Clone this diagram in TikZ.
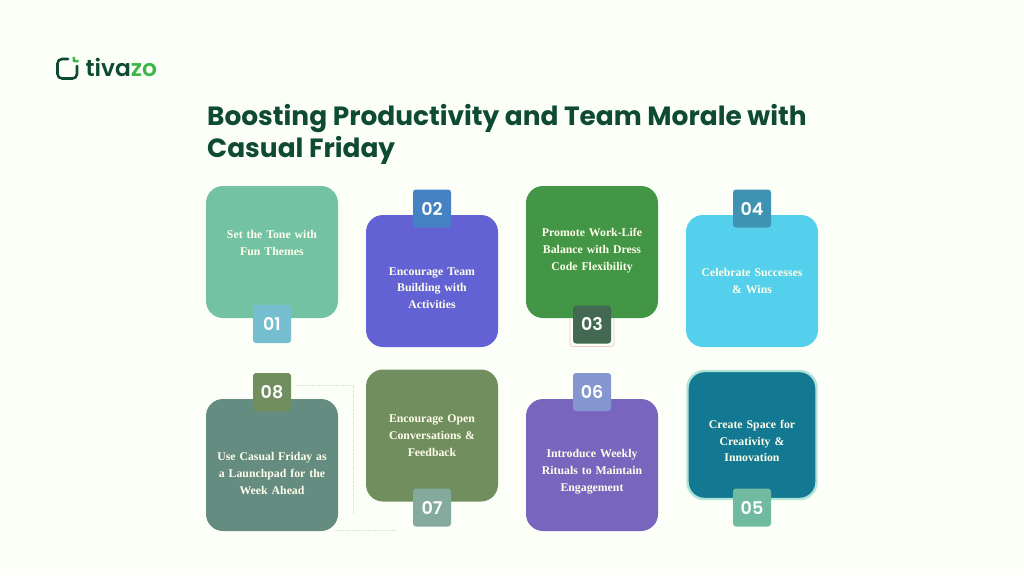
\documentclass[tikz,border=0pt]{standalone}
\usepackage{fontspec}
\setmainfont{Liberation Serif}
\newfontfamily\popfont{Poppins}
\newfontfamily\popsemi{Poppins SemiBold}
\definecolor{paper}{HTML}{FBFFF7}
\definecolor{titlegreen}{HTML}{0F4A33}
\definecolor{logogreen}{HTML}{3CB54A}
\definecolor{dotgrey}{HTML}{D9DCD6}
\tikzset{
	card/.style={rounded corners=17pt,minimum width=132pt,minimum height=132pt,inner sep=0pt},
	cardtext/.style={inner sep=0pt,text width=125pt,align=center,text=white!92!yellow,font=\fontsize{11.8}{16.8}\selectfont\bfseries},
	badge/.style={rounded corners=3pt,minimum width=38pt,minimum height=38pt,inner sep=0pt,text=white,font=\popsemi\fontsize{17.5}{20}\selectfont},
	heading/.style={anchor=north west,inner sep=0pt,align=left,text=titlegreen,font=\popfont\fontsize{26.4}{32}\selectfont\bfseries},
	dotline/.style={draw=dotgrey,densely dotted,line width=.8pt}
}
\begin{document}
\begin{tikzpicture}[x=1pt,y=-1pt]
	\useasboundingbox[fill=paper] (0,0) rectangle (1024,575);
	% logo
	\draw[titlegreen,line width=2.6pt,line cap=round,rounded corners=4.5pt] (68,59) -- (57.5,59) -- (57.5,78.5) -- (77,78.5) -- (77,66);
	\fill[logogreen] (72.5,57) -- (75,57) -- (75,60) -- (78.5,60) -- (78.5,62.5) -- (74,62.5) -- (72.5,61) -- cycle;
	\node[anchor=base west,inner sep=0pt,font=\popsemi\fontsize{23.3}{25}\selectfont] (logotext) at (85.5,77) {\textcolor{titlegreen}{tiva}\textcolor{logogreen}{zo}};
	% title
	\node[heading] (title) at (207,104) {Boosting Productivity and Team Morale with\\Casual Friday};
	% dotted lines behind the cards
	\coordinate (a1) at (296,385); \coordinate (a2) at (353,385); \coordinate (a3) at (353,513);
	\coordinate (b1) at (334,530); \coordinate (b2) at (396,530);
	\draw[dotline] (a1) -- (a2) -- (a3);
	\draw[dotline] (b1) -- (b2);
	% top row
	\node[card,fill={rgb,255:red,115;green,194;blue,164}] (card1) at (272,252) {};
	\node[cardtext,yshift=9pt] (text1) at (card1) {Set the Tone with\\Fun Themes};
	\node[badge,fill={rgb,255:red,116;green,190;blue,208}] (badge1) at (272,324) {01};
	\node[card,fill={rgb,255:red,98;green,98;blue,212}] (card2) at (432,281) {};
	\node[cardtext,yshift=-7pt] (text2) at (card2) {Encourage Team\\Building with\\Activities};
	\node[badge,fill={rgb,255:red,69;green,130;blue,196}] (badge2) at (432,208.5) {02};
	\node[draw={rgb,255:red,235;green,205;blue,185},line width=.8pt,rounded corners=3pt,minimum width=44pt,minimum height=42pt,inner sep=0pt] (ring3) at (592,325.5) {};
	\node[card,fill={rgb,255:red,66;green,150;blue,70}] (card3) at (592,252) {};
	\node[cardtext,yshift=1.5pt] (text3) at (card3) {Promote Work-Life\\Balance with Dress\\Code Flexibility};
	\node[badge,fill={rgb,255:red,68;green,105;blue,82}] (badge3) at (592,324.5) {03};
	\node[card,fill={rgb,255:red,85;green,208;blue,236}] (card4) at (752,281) {};
	\node[cardtext] (text4) at (card4) {Celebrate Successes\\\& Wins};
	\node[badge,fill={rgb,255:red,62;green,146;blue,178}] (badge4) at (752,208.5) {04};
	% bottom row
	\node[card,fill={rgb,255:red,19;green,121;blue,146},draw={rgb,255:red,176;green,228;blue,216},line width=2.4pt,minimum width=129pt,minimum height=128pt] (card5) at (752,435) {};
	\node[cardtext,yshift=-6pt] (text5) at (card5) {Create Space for\\Creativity \&\\Innovation};
	\node[badge,fill={rgb,255:red,112;green,186;blue,160}] (badge5) at (752,507.5) {05};
	\node[card,fill={rgb,255:red,120;green,101;blue,190}] (card6) at (592,465) {};
	\node[cardtext,yshift=-7pt] (text6) at (card6) {Introduce Weekly\\Rituals to Maintain\\Engagement};
	\node[badge,fill={rgb,255:red,132;green,150;blue,208}] (badge6) at (592,392) {06};
	\node[card,fill={rgb,255:red,113;green,142;blue,95}] (card7) at (432,435.5) {};
	\node[cardtext] (text7) at (card7) {Encourage Open\\Conversations \&\\Feedback};
	\node[badge,fill={rgb,255:red,132;green,170;blue,158}] (badge7) at (432,507.5) {07};
	\node[card,fill={rgb,255:red,101;green,140;blue,128}] (card8) at (272,465) {};
	\node[cardtext,yshift=-8.5pt] (text8) at (card8) {Use Casual Friday as\\a Launchpad for the\\Week Ahead};
	\node[badge,fill={rgb,255:red,113;green,142;blue,95}] (badge8) at (272,392) {08};
\end{tikzpicture}
\end{document}
